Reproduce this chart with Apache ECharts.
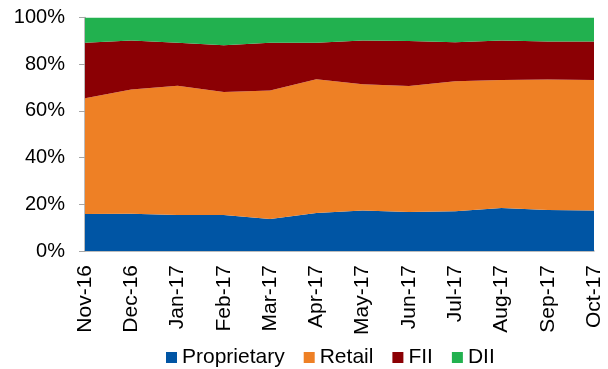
<!DOCTYPE html>
<html><head><meta charset="utf-8">
<script src="https://cdn.jsdelivr.net/npm/echarts@6/dist/echarts.min.js"></script>
<style>html,body{margin:0;padding:0;background:#fff}#c{width:608px;height:369px}</style>
</head><body><div id="c"></div>
<script>
const categories = ['Nov-16','Dec-16','Jan-17','Feb-17','Mar-17','Apr-17','May-17','Jun-17','Jul-17','Aug-17','Sep-17','Oct-17'];
const proprietary = [15.8, 16.0, 15.4, 15.4, 13.7, 16.3, 17.3, 16.7, 17.0, 18.4, 17.6, 17.3];
const retail = [49.6, 53.2, 55.4, 52.7, 55.0, 57.3, 54.1, 54.0, 55.7, 54.8, 55.9, 55.9];
const fii = [23.8, 20.9, 18.4, 20.0, 20.5, 15.6, 18.7, 19.2, 16.7, 16.9, 16.2, 16.5];
const dii = [10.8, 9.9, 10.8, 11.9, 10.8, 10.8, 9.9, 10.1, 10.6, 9.9, 10.3, 10.3];
const yTicks = [0, 20, 40, 60, 80, 100];

const colors = ['#0055A4', '#EE8025', '#8B0004', '#22B14F'];
const names = ['Proprietary', 'Retail', 'FII', 'DII'];
const dataSets = [proprietary, retail, fii, dii];

const chart = echarts.init(document.getElementById('c'));
chart.setOption({
  animation: false,
  grid: {left: 85, right: 14, top: 17.5, bottom: 118},
  legend: {
    data: names, left: 166, top: 347, padding: 0, icon: 'rect', itemWidth: 11, itemHeight: 11, itemGap: 19,
    textStyle: {fontFamily: 'Liberation Sans', fontSize: 21, color: '#000'}
  },
  xAxis: {
    type: 'category', data: categories, boundaryGap: false,
    axisLine: {lineStyle: {color: '#A6A6A6', width: 1.5}},
    axisTick: {show: false},
    axisLabel: {rotate: 90, margin: 14, fontFamily: 'Liberation Sans', fontSize: 21, color: '#000', interval: 0}
  },
  yAxis: {
    type: 'value', min: 0, max: 100, interval: 20,
    axisLine: {show: true, lineStyle: {color: '#A6A6A6', width: 1.5}},
    axisTick: {show: true, length: 6, lineStyle: {color: '#A6A6A6'}},
    splitLine: {show: false},
    axisLabel: {margin: 20, fontFamily: 'Liberation Sans', fontSize: 20, color: '#000',
      formatter: v => yTicks.includes(v) ? v + '%' : ''}
  },
  series: dataSets.map((d, i) => ({
    name: names[i], type: 'line', stack: 'total', data: d,
    symbol: 'none', lineStyle: {width: 0}, itemStyle: {color: colors[i]},
    areaStyle: {color: colors[i], opacity: 1}, z: 2
  }))
});
</script></body></html>
